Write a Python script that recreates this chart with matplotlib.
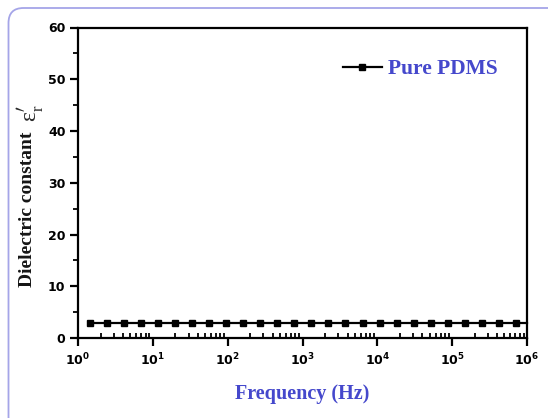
import numpy as np
import matplotlib
matplotlib.use("Agg")
import matplotlib.pyplot as plt
from matplotlib.patches import FancyBboxPatch
from matplotlib.ticker import LogLocator, FixedLocator, MultipleLocator, NullFormatter

# ---- data ----
freq_hz = [1.45, 2.44, 4.12, 6.97, 11.8, 19.9, 33.6, 56.6, 95.7, 161, 273, 461,
           778, 1315, 2220, 3750, 6340, 10700, 18100, 30500, 51500, 87100,
           147000, 248000, 419000, 708000, 1000000]
eps_r = [2.95, 2.95, 2.95, 2.95, 2.95, 2.95, 2.95, 2.95, 2.95, 2.95, 2.95, 2.95,
         2.95, 2.95, 2.95, 2.95, 2.95, 2.95, 2.95, 2.95, 2.95, 2.95, 2.95, 2.95,
         2.95, 2.95, 2.95]
n_markers = 26
series_label = "Pure PDMS"
x_ticks = [1e0, 1e1, 1e2, 1e3, 1e4, 1e5, 1e6]
x_tick_labels = [r"$\mathdefault{10^{0}}$", r"$\mathdefault{10^{1}}$", r"$\mathdefault{10^{2}}$",
                 r"$\mathdefault{10^{3}}$", r"$\mathdefault{10^{4}}$", r"$\mathdefault{10^{5}}$",
                 r"$\mathdefault{10^{6}}$"]
y_ticks = [0, 10, 20, 30, 40, 50, 60]
x_label = "Frequency (Hz)"
y_label_text = "Dielectric constant"
y_label_symbol = r"ε$_{\mathdefault{r}}^{\prime}$"

W, H = 548, 418
fig = plt.figure(figsize=(W / 100, H / 100), dpi=100)

# background rounded frame
bg = fig.add_axes([0, 0, 1, 1], zorder=0)
bg.set_xlim(0, W)
bg.set_ylim(H, 0)
bg.axis("off")
bg.add_patch(FancyBboxPatch((8.5, 8), 570, 425, boxstyle="round,pad=0,rounding_size=15",
                            ec="#a5a5e8", fc="none", lw=1.3))

left, right, top, bottom = 78, 527, 27.5, 338
ax = fig.add_axes([left / W, 1 - bottom / H, (right - left) / W, (bottom - top) / H], zorder=1)
ax.patch.set_alpha(0)

ax.plot(freq_hz, eps_r, color="black", lw=1.6, marker="s", ms=5,
        markevery=slice(0, n_markers), label=series_label, clip_on=False)

ax.set_xscale("log")
ax.set_xlim(1e0, 1e6)
ax.set_ylim(0, 60)

for s in ax.spines.values():
    s.set_linewidth(1.6)

ax.xaxis.set_major_locator(FixedLocator(x_ticks))
ax.set_xticklabels(x_tick_labels)
ax.xaxis.set_minor_locator(LogLocator(base=10, subs=np.arange(2, 10), numticks=20))
ax.xaxis.set_minor_formatter(NullFormatter())
ax.set_yticks(y_ticks)
ax.yaxis.set_minor_locator(MultipleLocator(5))

ax.tick_params(axis="x", which="major", direction="out", length=6, width=1.6, pad=4,
               top=False, labelsize=9)
ax.tick_params(axis="x", which="minor", direction="in", length=3.5, width=1.3, top=False)
ax.tick_params(axis="y", which="major", direction="out", length=6, width=1.6, pad=3,
               right=False, labelsize=9)
ax.tick_params(axis="y", which="minor", direction="out", length=3.5, width=1.3, right=False)
for lab in ax.get_xticklabels() + ax.get_yticklabels():
    lab.set_fontweight("bold")
    lab.set_family("DejaVu Sans")

blue = "#4548cc"
fig.text((left + right) / 2 / W, 1 - 394 / H, x_label, ha="center", va="center",
         family="Liberation Serif", weight="bold", fontsize=14.5, color=blue)
fig.text(31.7 / W, 1 - 287 / H, y_label_text, ha="left", va="baseline", rotation=90,
         rotation_mode="anchor", family="Liberation Serif", weight="bold", fontsize=14,
         color="#151515")
fig.text(36.5 / W, 1 - 121.5 / H, y_label_symbol, ha="left", va="baseline", rotation=90,
         rotation_mode="anchor", family="Liberation Serif", fontsize=17, color="#2a2a2a")

leg = ax.legend(loc="center left", bbox_to_anchor=((343 - left) / (right - left), (bottom - 69) / (bottom - top)),
                frameon=False, borderpad=0, borderaxespad=0, handlelength=1.8,
                handletextpad=0.3, prop={"family": "Liberation Serif", "weight": "bold", "size": 15.5})
for t in leg.get_texts():
    t.set_color(blue)

fig.savefig("out.png", dpi=100)
